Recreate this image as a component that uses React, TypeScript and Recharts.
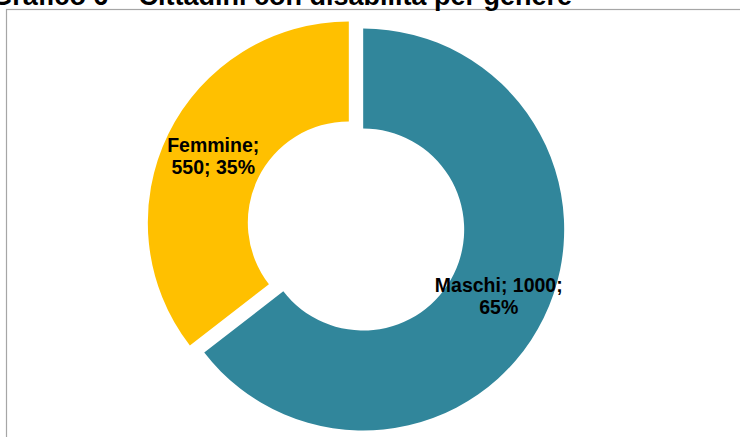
import React from "react";
import { PieChart, Pie, Cell } from "recharts";

const categories = ["Maschi", "Femmine"];
const values = [1000, 550];
const colors = ["#31869B", "#FFC000"];
const firstLineParts = [2, 1];
const title = "Grafico 6 – Cittadini con disabilità per genere";

const W = 740;
const H = 437;
const CX = 356;
const CY = 226;
const OUTER = 201;
const INNER = 101;
const EXPLODE = 8;
const FONT = "'Liberation Sans', Arial, sans-serif";

const total = values.reduce((a, b) => a + b, 0);
const data = categories.map((name, i) => ({ name, value: values[i] }));

const offsets = values.map((v, i) => {
  const cum = values.slice(0, i).reduce((a, b) => a + b, 0);
  const mid = (cum + v / 2) / total;
  const a = ((90 - 360 * mid) * Math.PI) / 180;
  return { dx: EXPLODE * Math.cos(a), dy: -EXPLODE * Math.sin(a) };
});

const makeLabel = (slice: number) => (props: any) => {
  const { index, midAngle, innerRadius, outerRadius, cx, cy } = props;
  if (index !== slice) return null;
  const r = (innerRadius + outerRadius) / 2;
  const a = (midAngle * Math.PI) / 180;
  const x = cx + r * Math.cos(a);
  const y = cy - r * Math.sin(a);
  const pct = Math.round((values[index] / total) * 100);
  const parts = [`${categories[index]};`, `${values[index]};`, `${pct}%`];
  const n = firstLineParts[index];
  const l1 = parts.slice(0, n).join(" ");
  const l2 = parts.slice(n).join(" ");
  return (
    <text
      x={x}
      y={y - 4}
      textAnchor="middle"
      fontFamily={FONT}
      fontWeight="bold"
      fontSize={19.5}
      fill="#000"
    >
      <tspan x={x} y={y - 4}>{l1}</tspan>
      <tspan x={x} y={y + 18}>{l2}</tspan>
    </text>
  );
};

export default function App() {
  return (
    <div style={{ position: "fixed", left: 0, top: 0, width: W, height: H, background: "#fff", overflow: "hidden" }}>
      <svg
        width={W}
        height={H}
        style={{ position: "absolute", left: 0, top: 0, display: "block" }}
      >
        <rect x={6.5} y={9.5} width={W + 20} height={H + 20} fill="#fff" stroke="#a6a6a6" strokeWidth={1.2} />
        <text x={572} y={4.5} textAnchor="end" fontFamily={FONT} fontWeight="bold" fontSize={27} fill="#000">
          {title}
        </text>
      </svg>
      <div style={{ position: "absolute", left: 0, top: 0 }}>
        <PieChart width={W} height={H} margin={{ top: 0, right: 0, bottom: 0, left: 0 }}>
          {values.map((_, s) => (
            <Pie
              key={s}
              data={data}
              dataKey="value"
              nameKey="name"
              cx={CX + offsets[s].dx}
              cy={CY + offsets[s].dy}
              innerRadius={INNER}
              outerRadius={OUTER}
              startAngle={90}
              endAngle={-270}
              stroke="none"
              isAnimationActive={false}
              labelLine={false}
              label={makeLabel(s)}
            >
              {data.map((_, i) => (
                <Cell key={i} fill={i === s ? colors[i] : "transparent"} stroke="none" />
              ))}
            </Pie>
          ))}
        </PieChart>
      </div>
    </div>
  );
}
